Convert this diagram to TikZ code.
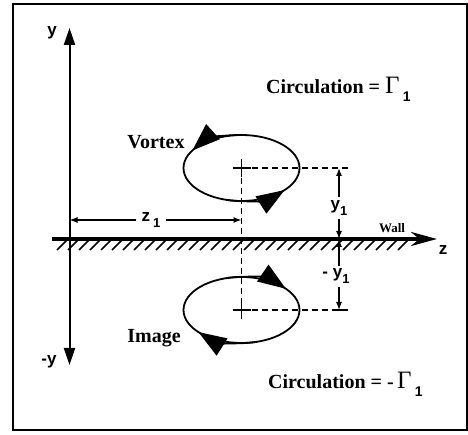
\documentclass[tikz,border=0pt]{standalone}
\usepackage{fontspec}
\setmainfont{Liberation Serif}
\setsansfont{Liberation Sans}
\usepackage{tikz}
\usetikzlibrary{arrows, arrows.meta}
\tikzset{label/.style = {font = \fontsize{20}{22}\selectfont\bfseries, inner sep = 0pt}}
\tikzset{axlabel/.style = {font = \fontsize{17}{19}\selectfont\sffamily\bfseries, inner sep = 0pt}}
\tikzset{axis/.style = {line width = 2pt, -{Triangle[length = 17pt, width = 11pt]}}}
\tikzset{swirl/.style = {line width = 1.8pt}}
\tikzset{swirltip/.style = {line width = 1.8pt, -{Triangle[length = 28pt, width = 20pt]}}}
\tikzset{guide/.style = {line width = 1.3pt, dash pattern = on 6pt off 4pt}}
\tikzset{dim/.style = {line width = 1.3pt, -{Latex[length = 8pt, width = 6pt]}}}
\newcommand{\sub}[1]{\raisebox{-6pt}{\fontsize{13}{15}\selectfont\sffamily\bfseries #1}}
\newcommand{\gam}{{\fontsize{25}{27}\selectfont\mdseries Γ}\,\raisebox{-8pt}{\fontsize{14}{16}\selectfont\sffamily\bfseries 1}}

\begin{document}
\begin{tikzpicture}[x = 1pt, y = 1pt]
				\useasboundingbox (0, 0) rectangle (468, 435);
				\draw[line width = 2pt] (13, 5) rectangle (467, 430.5);

				\coordinate (o) at (69.5, 196);
				\coordinate (ytop) at (69.5, 407);
				\coordinate (ybot) at (69.5, 70);
				\coordinate (wl) at (52, 196);
				\coordinate (wr) at (437, 196);
				\coordinate (v) at (241.5, 267);
				\coordinate (i) at (241.5, 125);
				\coordinate (vr) at (348, 267);
				\coordinate (ir) at (348, 125);

				% axes and wall
				\draw[axis] (o) to (ytop);
				\draw[axis] (o) to (ybot);
				\draw[line width = 4pt, -{Stealth[length = 26pt, width = 14pt]}] (wl) to (wr);
				\foreach \x in {57, 68, ..., 398}
					\draw[line width = 1.5pt] (\x, 185) -- ++(10, 10);

				\node[axlabel] (ylab) at (52, 402) {y};
				\node[axlabel] (nylab) at (49, 73) {-y};
				\node[axlabel] (zlab) at (443, 185) {z};
				\node[label, font = \fontsize{13}{15}\selectfont\bfseries] (wall) at (392, 207) {Wall};

				% vortex and its image
				\draw[swirl] (v) ellipse [x radius = 58, y radius = 33];
				\draw[swirl] (i) ellipse [x radius = 58, y radius = 33];
				\draw[swirltip] (v) ++(85:58 and 33) arc [start angle = 85, end angle = 148, x radius = 58, y radius = 33];
				\draw[swirltip] (v) ++(-105:58 and 33) arc [start angle = -105, end angle = -42, x radius = 58, y radius = 33];
				\draw[swirltip] (i) ++(105:58 and 33) arc [start angle = 105, end angle = 40, x radius = 58, y radius = 33];
				\draw[swirltip] (i) ++(-75:58 and 33) arc [start angle = -75, end angle = -138, x radius = 58, y radius = 33];
				\draw[line width = 1.3pt] (v) ++(-9, 0) -- ++(18, 0) (v) ++(0, -9) -- ++(0, 18);
				\draw[line width = 1.3pt] (i) ++(-9, 0) -- ++(18, 0) (i) ++(0, -9) -- ++(0, 18);

				\node[label] (vortex) at (156, 293) {Vortex};
				\node[label] (image) at (154, 97) {Image};

				% guides
				\draw[guide] (v) to (i);
				\draw[guide] (v) to (vr);
				\draw[guide] (i) to (ir);

				% dimensions
				\node[axlabel] (z1) at (151, 215) {z\,\sub{1}};
				\draw[dim] (z1.west) ++(-6, 0) to (o |- z1);
				\draw[dim] (z1.east) ++(6, 0) to (v |- z1);
				\draw[line width = 1.3pt] (o |- z1) ++(0, -7) -- ++(0, 14);
				\node[axlabel] (y1) at (339, 227) {y\sub{1}};
				\draw[dim] (y1.north) ++(0, 3) to (v -| y1);
				\draw[dim] (y1.south) ++(0, -3) to (o -| y1);
				\node[axlabel] (ny1) at (336, 159) {- y\sub{1}};
				\draw[dim] (ny1.north -| y1) ++(0, 2) to (o -| y1);
				\draw[dim] (ny1.south -| y1) ++(0, -3) to (i -| y1);
				\draw[line width = 1.3pt] (i -| y1) ++(-5, 0) -- ++(10, 0);

				\node[label, anchor = west] (circ) at (266, 346) {Circulation =\ \gam};
				\node[label, anchor = west] (icirc) at (268, 51) {Circulation =\ -\,\gam};
			\end{tikzpicture}
\end{document}
